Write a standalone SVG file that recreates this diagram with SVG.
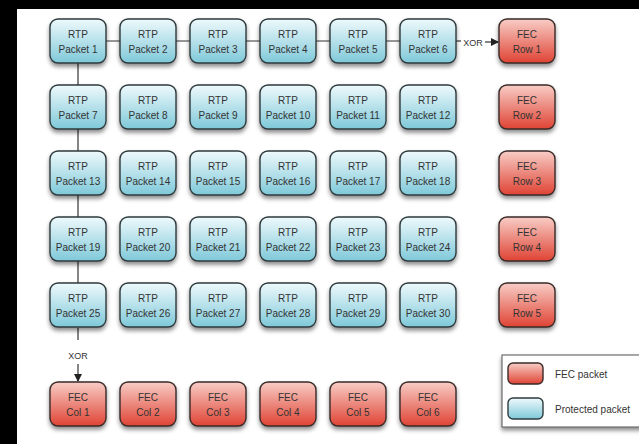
<svg xmlns="http://www.w3.org/2000/svg" width="639" height="444" viewBox="0 0 639 444">
<defs>
<linearGradient id="gb" x1="0" y1="0" x2="0" y2="1">
<stop offset="0" stop-color="#eef9fc"/>
<stop offset="1" stop-color="#7fc9d9"/>
</linearGradient>
<linearGradient id="gr" x1="0" y1="0" x2="0" y2="1">
<stop offset="0" stop-color="#f8cdc6"/>
<stop offset="1" stop-color="#df4334"/>
</linearGradient>
<filter id="sh" x="-30%" y="-30%" width="160%" height="180%">
<feDropShadow dx="0" dy="3" stdDeviation="2.2" flood-color="#000" flood-opacity="0.45"/>
</filter>
<marker id="ah" markerWidth="8" markerHeight="8" refX="7" refY="4" orient="auto" markerUnits="userSpaceOnUse">
<path d="M0,0 L8,4 L0,8 Z" fill="#222"/>
</marker>
<style>
.b rect{fill:url(#gb);stroke:#2e3a3e;stroke-width:1.4;filter:url(#sh)}
.r rect{fill:url(#gr);stroke:#3a2a28;stroke-width:1.4;filter:url(#sh)}
text{font-family:"Liberation Sans",Arial,sans-serif;font-size:10px;fill:#333;text-anchor:middle}
.c line{stroke:#333;stroke-width:1.2}
.x{font-size:9px}
.lg{text-anchor:start;font-size:10px}
</style>
</defs>
<rect x="0" y="0" width="639" height="444" fill="#000"/>
<rect x="17" y="9" width="622" height="435" fill="#fff"/>

<g id="connectors" class="c">
<line x1="106" y1="41" x2="401" y2="41"/>
<line x1="78" y1="63" x2="78" y2="283"/>
<line x1="456" y1="41" x2="461" y2="41"/>
<line x1="485" y1="42" x2="498" y2="42" marker-end="url(#ah)"/>
<line x1="78" y1="328" x2="78" y2="340"/>
<line x1="78" y1="364" x2="78" y2="381" marker-end="url(#ah)"/>
<text class="x" x="473" y="45.5">XOR</text>
<text class="x" x="78" y="359">XOR</text>
</g>

<g id="p1" class="b"><rect x="50" y="19" width="56" height="44" rx="8"/><text x="78" y="37.5">RTP</text><text x="78" y="53">Packet 1</text></g>
<g id="p2" class="b"><rect x="120" y="19" width="56" height="44" rx="8"/><text x="148" y="37.5">RTP</text><text x="148" y="53">Packet 2</text></g>
<g id="p3" class="b"><rect x="190" y="19" width="56" height="44" rx="8"/><text x="218" y="37.5">RTP</text><text x="218" y="53">Packet 3</text></g>
<g id="p4" class="b"><rect x="260" y="19" width="56" height="44" rx="8"/><text x="288" y="37.5">RTP</text><text x="288" y="53">Packet 4</text></g>
<g id="p5" class="b"><rect x="330" y="19" width="56" height="44" rx="8"/><text x="358" y="37.5">RTP</text><text x="358" y="53">Packet 5</text></g>
<g id="p6" class="b"><rect x="400" y="19" width="56" height="44" rx="8"/><text x="428" y="37.5">RTP</text><text x="428" y="53">Packet 6</text></g>
<g id="r1" class="r"><rect x="499" y="19" width="56" height="44" rx="8"/><text x="527" y="37.5">FEC</text><text x="527" y="53">Row 1</text></g>

<g id="p7" class="b"><rect x="50" y="85" width="56" height="44" rx="8"/><text x="78" y="103.5">RTP</text><text x="78" y="119">Packet 7</text></g>
<g id="p8" class="b"><rect x="120" y="85" width="56" height="44" rx="8"/><text x="148" y="103.5">RTP</text><text x="148" y="119">Packet 8</text></g>
<g id="p9" class="b"><rect x="190" y="85" width="56" height="44" rx="8"/><text x="218" y="103.5">RTP</text><text x="218" y="119">Packet 9</text></g>
<g id="p10" class="b"><rect x="260" y="85" width="56" height="44" rx="8"/><text x="288" y="103.5">RTP</text><text x="288" y="119">Packet 10</text></g>
<g id="p11" class="b"><rect x="330" y="85" width="56" height="44" rx="8"/><text x="358" y="103.5">RTP</text><text x="358" y="119">Packet 11</text></g>
<g id="p12" class="b"><rect x="400" y="85" width="56" height="44" rx="8"/><text x="428" y="103.5">RTP</text><text x="428" y="119">Packet 12</text></g>
<g id="r2" class="r"><rect x="499" y="85" width="56" height="44" rx="8"/><text x="527" y="103.5">FEC</text><text x="527" y="119">Row 2</text></g>

<g id="p13" class="b"><rect x="50" y="151" width="56" height="44" rx="8"/><text x="78" y="169.5">RTP</text><text x="78" y="185">Packet 13</text></g>
<g id="p14" class="b"><rect x="120" y="151" width="56" height="44" rx="8"/><text x="148" y="169.5">RTP</text><text x="148" y="185">Packet 14</text></g>
<g id="p15" class="b"><rect x="190" y="151" width="56" height="44" rx="8"/><text x="218" y="169.5">RTP</text><text x="218" y="185">Packet 15</text></g>
<g id="p16" class="b"><rect x="260" y="151" width="56" height="44" rx="8"/><text x="288" y="169.5">RTP</text><text x="288" y="185">Packet 16</text></g>
<g id="p17" class="b"><rect x="330" y="151" width="56" height="44" rx="8"/><text x="358" y="169.5">RTP</text><text x="358" y="185">Packet 17</text></g>
<g id="p18" class="b"><rect x="400" y="151" width="56" height="44" rx="8"/><text x="428" y="169.5">RTP</text><text x="428" y="185">Packet 18</text></g>
<g id="r3" class="r"><rect x="499" y="151" width="56" height="44" rx="8"/><text x="527" y="169.5">FEC</text><text x="527" y="185">Row 3</text></g>

<g id="p19" class="b"><rect x="50" y="217" width="56" height="44" rx="8"/><text x="78" y="235.5">RTP</text><text x="78" y="251">Packet 19</text></g>
<g id="p20" class="b"><rect x="120" y="217" width="56" height="44" rx="8"/><text x="148" y="235.5">RTP</text><text x="148" y="251">Packet 20</text></g>
<g id="p21" class="b"><rect x="190" y="217" width="56" height="44" rx="8"/><text x="218" y="235.5">RTP</text><text x="218" y="251">Packet 21</text></g>
<g id="p22" class="b"><rect x="260" y="217" width="56" height="44" rx="8"/><text x="288" y="235.5">RTP</text><text x="288" y="251">Packet 22</text></g>
<g id="p23" class="b"><rect x="330" y="217" width="56" height="44" rx="8"/><text x="358" y="235.5">RTP</text><text x="358" y="251">Packet 23</text></g>
<g id="p24" class="b"><rect x="400" y="217" width="56" height="44" rx="8"/><text x="428" y="235.5">RTP</text><text x="428" y="251">Packet 24</text></g>
<g id="r4" class="r"><rect x="499" y="217" width="56" height="44" rx="8"/><text x="527" y="235.5">FEC</text><text x="527" y="251">Row 4</text></g>

<g id="p25" class="b"><rect x="50" y="283" width="56" height="44" rx="8"/><text x="78" y="301.5">RTP</text><text x="78" y="317">Packet 25</text></g>
<g id="p26" class="b"><rect x="120" y="283" width="56" height="44" rx="8"/><text x="148" y="301.5">RTP</text><text x="148" y="317">Packet 26</text></g>
<g id="p27" class="b"><rect x="190" y="283" width="56" height="44" rx="8"/><text x="218" y="301.5">RTP</text><text x="218" y="317">Packet 27</text></g>
<g id="p28" class="b"><rect x="260" y="283" width="56" height="44" rx="8"/><text x="288" y="301.5">RTP</text><text x="288" y="317">Packet 28</text></g>
<g id="p29" class="b"><rect x="330" y="283" width="56" height="44" rx="8"/><text x="358" y="301.5">RTP</text><text x="358" y="317">Packet 29</text></g>
<g id="p30" class="b"><rect x="400" y="283" width="56" height="44" rx="8"/><text x="428" y="301.5">RTP</text><text x="428" y="317">Packet 30</text></g>
<g id="r5" class="r"><rect x="499" y="283" width="56" height="44" rx="8"/><text x="527" y="301.5">FEC</text><text x="527" y="317">Row 5</text></g>

<g id="c1" class="r"><rect x="50" y="382" width="56" height="44" rx="8"/><text x="78" y="400.5">FEC</text><text x="78" y="416">Col 1</text></g>
<g id="c2" class="r"><rect x="120" y="382" width="56" height="44" rx="8"/><text x="148" y="400.5">FEC</text><text x="148" y="416">Col 2</text></g>
<g id="c3" class="r"><rect x="190" y="382" width="56" height="44" rx="8"/><text x="218" y="400.5">FEC</text><text x="218" y="416">Col 3</text></g>
<g id="c4" class="r"><rect x="260" y="382" width="56" height="44" rx="8"/><text x="288" y="400.5">FEC</text><text x="288" y="416">Col 4</text></g>
<g id="c5" class="r"><rect x="330" y="382" width="56" height="44" rx="8"/><text x="358" y="400.5">FEC</text><text x="358" y="416">Col 5</text></g>
<g id="c6" class="r"><rect x="400" y="382" width="56" height="44" rx="8"/><text x="428" y="400.5">FEC</text><text x="428" y="416">Col 6</text></g>

<g id="legend">
<rect x="502" y="355" width="140" height="72" fill="#fff" stroke="#555" stroke-width="1" filter="url(#sh)"/>
<g class="r"><rect x="508" y="363" width="35" height="21" rx="5" style="filter:none"/></g>
<g class="b"><rect x="508" y="398" width="35" height="21" rx="5" style="filter:none"/></g>
<text class="lg" x="555" y="378">FEC packet</text>
<text class="lg" x="555" y="413">Protected packet</text>
</g>
</svg>
